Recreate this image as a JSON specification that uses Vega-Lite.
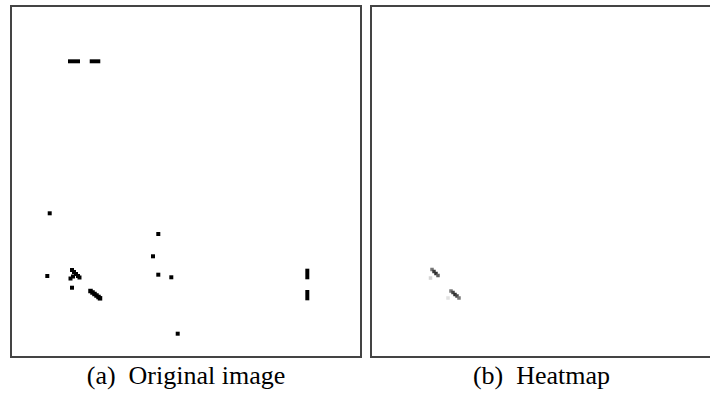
{
  "$schema": "https://vega.github.io/schema/vega-lite/v6.json",
  "background": "white",
  "padding": {"left": 10, "top": 5, "right": 0, "bottom": 0},
  "spacing": 8,
  "config": {
    "view": {"stroke": "#444", "strokeWidth": 2},
    "axis": {"disable": true}
  },
  "datasets": {
    "orig": [
      {"x": 16.29, "x2": 19.71, "y": 15.19, "y2": 16.32},
      {"x": 22.49, "x2": 25.51, "y": 15.19, "y2": 16.32},
      {"x": 10.49, "x2": 11.63, "y": 58.49, "y2": 59.63},
      {"x": 9.8, "x2": 10.94, "y": 76.35, "y2": 77.49},
      {"x": 16.86, "x2": 18.0, "y": 74.64, "y2": 75.78},
      {"x": 17.43, "x2": 18.57, "y": 75.21, "y2": 76.35},
      {"x": 18.0, "x2": 19.14, "y": 75.78, "y2": 76.92},
      {"x": 18.57, "x2": 19.71, "y": 76.35, "y2": 77.49},
      {"x": 19.0, "x2": 20.14, "y": 76.78, "y2": 77.92},
      {"x": 16.43, "x2": 17.57, "y": 77.07, "y2": 78.21},
      {"x": 17.14, "x2": 18.29, "y": 76.5, "y2": 77.64},
      {"x": 16.86, "x2": 18.0, "y": 79.69, "y2": 80.83},
      {"x": 22.07, "x2": 23.36, "y": 80.56, "y2": 81.84},
      {"x": 22.64, "x2": 23.93, "y": 80.98, "y2": 82.26},
      {"x": 23.21, "x2": 24.5, "y": 81.41, "y2": 82.69},
      {"x": 23.79, "x2": 25.07, "y": 81.84, "y2": 83.12},
      {"x": 24.36, "x2": 25.64, "y": 82.26, "y2": 83.55},
      {"x": 24.79, "x2": 26.07, "y": 82.64, "y2": 83.92},
      {"x": 41.51, "x2": 42.66, "y": 64.39, "y2": 65.53},
      {"x": 40.0, "x2": 41.14, "y": 70.74, "y2": 71.88},
      {"x": 41.51, "x2": 42.66, "y": 75.98, "y2": 77.12},
      {"x": 45.23, "x2": 46.37, "y": 76.72, "y2": 77.86},
      {"x": 47.06, "x2": 48.2, "y": 92.79, "y2": 93.93},
      {"x": 84.09, "x2": 85.23, "y": 74.84, "y2": 77.86},
      {"x": 84.09, "x2": 85.23, "y": 80.91, "y2": 83.85}
    ],
    "heat": [
      {"x": 16.93, "x2": 17.93, "y": 74.57, "y2": 75.57, "v": 0.5},
      {"x": 17.5, "x2": 18.5, "y": 75.14, "y2": 76.14, "v": 0.75},
      {"x": 18.07, "x2": 19.07, "y": 75.71, "y2": 76.71, "v": 0.8},
      {"x": 18.64, "x2": 19.64, "y": 76.28, "y2": 77.28, "v": 0.6},
      {"x": 16.5, "x2": 17.5, "y": 77.0, "y2": 78.0, "v": 0.15},
      {"x": 22.36, "x2": 23.36, "y": 80.7, "y2": 81.7, "v": 0.5},
      {"x": 22.93, "x2": 23.93, "y": 81.12, "y2": 82.12, "v": 0.7},
      {"x": 23.5, "x2": 24.5, "y": 81.7, "y2": 82.69, "v": 0.8},
      {"x": 24.07, "x2": 25.07, "y": 82.12, "y2": 83.12, "v": 0.7},
      {"x": 24.64, "x2": 25.64, "y": 82.69, "y2": 83.69, "v": 0.5},
      {"x": 21.5, "x2": 22.5, "y": 82.69, "y2": 83.69, "v": 0.1}
    ]
  },
  "hconcat": [
    {
      "width": 350,
      "height": 351,
      "title": {"text": "(a)\u00a0 Original image", "orient": "bottom", "font": "Liberation Serif", "fontSize": 26, "fontWeight": "normal", "color": "#000", "offset": 6},
      "data": {"name": "orig"},
      "mark": {"type": "rect", "color": "#000"},
      "encoding": {
        "x": {"field": "x", "type": "quantitative", "scale": {"domain": [0, 100], "nice": false, "zero": false}},
        "x2": {"field": "x2"},
        "y": {"field": "y", "type": "quantitative", "scale": {"domain": [0, 100], "nice": false, "zero": false, "reverse": true}},
        "y2": {"field": "y2"}
      }
    },
    {
      "width": 341,
      "height": 351,
      "title": {"text": "(b)\u00a0 Heatmap", "orient": "bottom", "font": "Liberation Serif", "fontSize": 26, "fontWeight": "normal", "color": "#000", "offset": 6},
      "data": {"name": "heat"},
      "mark": {"type": "rect"},
      "encoding": {
        "x": {"field": "x", "type": "quantitative", "scale": {"domain": [0, 97.43], "nice": false, "zero": false}},
        "x2": {"field": "x2"},
        "y": {"field": "y", "type": "quantitative", "scale": {"domain": [0, 100], "nice": false, "zero": false, "reverse": true}},
        "y2": {"field": "y2"},
        "color": {"field": "v", "type": "quantitative", "scale": {"domain": [0, 1], "range": ["#ffffff", "#000000"]}, "legend": null}
      }
    }
  ]
}
